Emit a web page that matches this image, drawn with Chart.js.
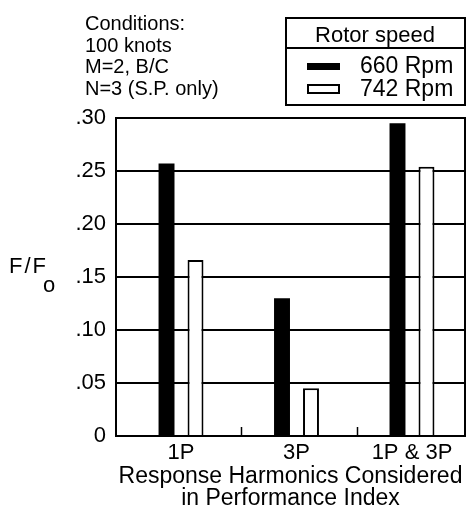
<!DOCTYPE html>
<html>
<head>
<meta charset="utf-8">
<script src="https://cdn.jsdelivr.net/npm/chart.js@4.4.1/dist/chart.umd.min.js"></script>
<style>
  html, body { margin: 0; padding: 0; background: #fff; }
  #c { display: block; }
</style>
</head>
<body>
<canvas id="c" width="470" height="510"></canvas>
<script>
// data
var categories = ['1P', '3P', '1P & 3P']
var rpm660 = [0.257, 0.130, 0.295]
var rpm742 = [0.166, 0.045, 0.254]
var yTicks = [0, 0.05, 0.10, 0.15, 0.20, 0.25, 0.30]
var seriesNames = ['660 Rpm', '742 Rpm']
var conditions = ['Conditions:', '100 knots', 'M=2, B/C', 'N=3 (S.P. only)']
var xTitle = ['Response Harmonics Considered', 'in Performance Index']

var FONT = 'Liberation Sans, Arial, Helvetica, sans-serif'
Chart.defaults.font.family = FONT
Chart.defaults.color = '#000'

function toPoints(arr){
    return arr.map(function(v, i){ return {x: i, y: v} })
}

function tickText(v){
    if (v === 0) return '0'
    return '.' + String(Math.round(v * 100)).padStart(2, '0')
}

// frame, category marks, conditions block, legend box, y label
var decorPlugin = {
    id: 'decor',
    afterDraw: function(chart){
        var ctx = chart.ctx
        var a = chart.chartArea
        var xs = chart.scales.x
        ctx.save()
        ctx.strokeStyle = '#000'
        ctx.fillStyle = '#000'

        // plot frame
        ctx.lineWidth = 2
        ctx.strokeRect(a.left, a.top, a.right - a.left, a.bottom - a.top)

        // small marks between categories
        ctx.lineWidth = 1.5
        for (var i = 0; i < categories.length - 1; i++){
            var px = Math.round(xs.getPixelForValue(i + 0.52)) + 0.5
            ctx.beginPath()
            ctx.moveTo(px, a.bottom)
            ctx.lineTo(px, a.bottom - 9)
            ctx.stroke()
        }

        // conditions text
        ctx.font = '20px ' + FONT
        ctx.textAlign = 'left'
        ctx.textBaseline = 'alphabetic'
        conditions.forEach(function(line, k){
            ctx.fillText(line, 85, 30 + k * 21.7)
        })

        // legend box
        ctx.lineWidth = 2
        ctx.strokeRect(286, 18, 179, 87)
        ctx.beginPath()
        ctx.moveTo(286, 48)
        ctx.lineTo(465, 48)
        ctx.stroke()
        ctx.font = '22px ' + FONT
        ctx.textAlign = 'center'
        ctx.fillText('Rotor speed', 375, 42)

        ctx.fillRect(307, 63, 33, 7)
        ctx.lineWidth = 2
        ctx.strokeRect(308, 85, 31, 8)
        ctx.font = '23px ' + FONT
        ctx.textAlign = 'left'
        ctx.fillText(seriesNames[0], 360, 73)
        ctx.fillText(seriesNames[1], 360, 96)

        // y axis label F/Fo
        ctx.font = '22px ' + FONT
        ctx.letterSpacing = '2px'
        ctx.fillText('F/F', 9, 273)
        ctx.letterSpacing = '0px'
        ctx.fillText('o', 43, 292)

        ctx.restore()
    }
}

var chart = new Chart(document.getElementById('c'), {
    type: 'bar',
    data: {
        datasets: [
            {
                label: seriesNames[0],
                data: toPoints(rpm660),
                backgroundColor: '#000',
                borderWidth: 0
            },
            {
                label: seriesNames[1],
                data: toPoints(rpm742),
                backgroundColor: '#fff',
                borderColor: '#000',
                borderWidth: 2
            }
        ]
    },
    options: {
        responsive: false,
        animation: false,
        devicePixelRatio: 1,
        categoryPercentage: 0.502,
        barPercentage: 0.55,
        layout: { padding: { top: 118, right: 5, left: 0, bottom: 0 } },
        plugins: {
            legend: { display: false },
            tooltip: { enabled: false }
        },
        scales: {
            x: {
                type: 'linear',
                offset: false,
                min: -0.563,
                max: 2.459,
                grid: { display: false, drawTicks: false, offset: false },
                border: { display: false },
                afterBuildTicks: function(scale){
                    scale.ticks = categories.map(function(c, i){ return {value: i} })
                },
                afterFit: function(scale){ scale.height = 74 },
                ticks: {
                    padding: 4,
                    maxRotation: 0,
                    font: { size: 22 },
                    callback: function(v){ return categories[v] }
                },
                title: {
                    display: true,
                    text: xTitle,
                    font: { size: 23, lineHeight: 0.96 },
                    padding: { top: 0, bottom: 0 }
                }
            },
            y: {
                min: 0,
                max: 0.30,
                afterBuildTicks: function(scale){
                    scale.ticks = yTicks.map(function(v){ return {value: v} })
                },
                afterFit: function(scale){ scale.width = 116 },
                grid: { color: '#000', lineWidth: 2, drawTicks: false },
                border: { display: false },
                ticks: {
                    padding: 10,
                    font: { size: 22 },
                    callback: function(v){ return tickText(v) }
                }
            }
        }
    },
    plugins: [decorPlugin]
})
</script>
</body>
</html>
